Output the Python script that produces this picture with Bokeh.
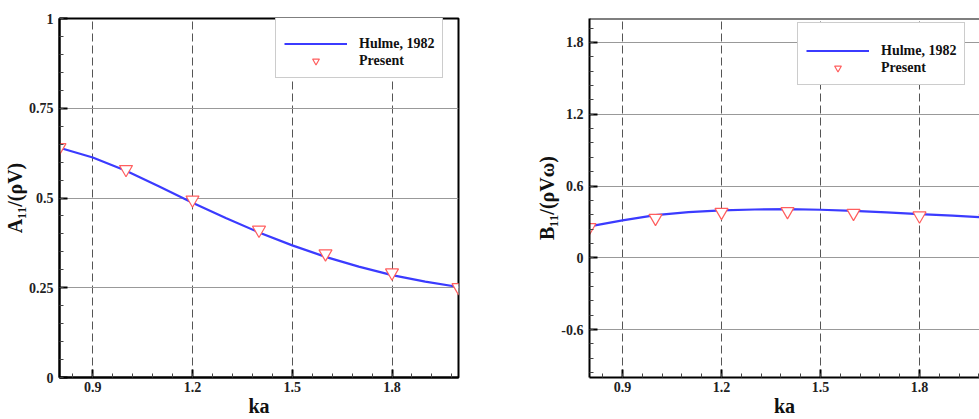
import numpy as np
from bokeh.plotting import figure
from bokeh.layouts import row
from bokeh.models import FixedTicker, Legend, LegendItem, Range1d, Span
from bokeh.embed import file_html
from bokeh.resources import INLINE

# ---------------- data ----------------
ka_line = [0.8, 0.9, 1.0, 1.1, 1.2, 1.3, 1.4, 1.5, 1.6, 1.7, 1.8, 1.9, 2.0]
a11_hulme = [0.640, 0.613, 0.576, 0.532, 0.487, 0.444, 0.404, 0.368, 0.336, 0.309, 0.285, 0.267, 0.252]
b11_hulme = [0.263, 0.313, 0.357, 0.382, 0.396, 0.404, 0.407, 0.402, 0.393, 0.380, 0.366, 0.352, 0.338]

ka_pts = [0.8, 1.0, 1.2, 1.4, 1.6, 1.8, 2.0]
a11_present = [0.641, 0.580, 0.495, 0.411, 0.345, 0.292, 0.251]
b11_present = [0.255, 0.332, 0.382, 0.388, 0.374, 0.352, 0.330]

x_ticks = [0.9, 1.2, 1.5, 1.8]
a_ticks = [0, 0.25, 0.5, 0.75, 1.0]
a_tick_labels = ["0", "0.25", "0.5", "0.75", "1"]
b_ticks = [-0.6, 0, 0.6, 1.2, 1.8]
b_tick_labels = ["-0.6", "0", "0.6", "1.2", "1.8"]

SERIF = "Liberation Serif"
LINE_C = "#3b3bff"
MARK_C = "#ff5e5e"


def style(p, yticks, ylabels, yminor, ylabel, outline=True):
    xminor = list(np.round(np.arange(0.78, 2.05, 0.06), 2))
    p.xaxis.ticker = FixedTicker(ticks=x_ticks, minor_ticks=xminor)
    p.yaxis.ticker = FixedTicker(ticks=yticks, minor_ticks=yminor)
    p.yaxis.major_label_overrides = {t: l for t, l in zip(yticks, ylabels)}
    for ax in (p.xaxis, p.yaxis):
        ax.major_tick_in = 8
        ax.major_tick_out = 0
        ax.minor_tick_in = 4
        ax.minor_tick_out = 0
        ax.major_tick_line_width = 2
        ax.major_tick_line_color = "black"
        ax.minor_tick_line_color = "#444444"
        ax.axis_line_width = 2
        ax.axis_line_color = "black"
        ax.major_label_text_font = SERIF
        ax.major_label_text_font_style = "bold"
        ax.major_label_text_font_size = "14px"
        ax.major_label_text_color = "#222222"
        ax.axis_label_text_font = SERIF
        ax.axis_label_text_font_style = "bold"
        ax.axis_label_text_color = "#111111"
    p.xaxis.axis_label = "ka"
    p.xaxis.axis_label_text_font_size = "20px"
    p.xaxis.axis_label_standoff = 0
    p.xaxis.major_label_standoff = 4
    p.yaxis.axis_label = ylabel
    p.yaxis.axis_label_text_font_size = "20px"
    p.yaxis.axis_label_standoff = 0
    p.yaxis.major_label_standoff = 6
    p.xgrid.ticker = FixedTicker(ticks=x_ticks)
    p.ygrid.ticker = FixedTicker(ticks=yticks)
    p.xgrid.grid_line_color = "#555555"
    p.xgrid.grid_line_dash = "8 4"
    p.xgrid.grid_line_width = 1
    p.ygrid.grid_line_color = "#999999"
    p.ygrid.grid_line_width = 1
    if outline:
        p.outline_line_color = "black"
        p.outline_line_width = 2
        p.outline_line_alpha = 1
    else:
        p.outline_line_color = None
    p.background_fill_color = "white"
    p.border_fill_color = "white"


def add_series(p, yline, ypts, loc):
    r1 = p.line(ka_line, yline, line_color=LINE_C, line_width=2.2)
    r2 = p.scatter(ka_pts, ypts, marker="inverted_triangle", size=13,
                   line_color=MARK_C, fill_color="white", line_width=1.2)
    leg = Legend(items=[LegendItem(label="Hulme, 1982", renderers=[r1]),
                        LegendItem(label="Present", renderers=[r2])],
                 location=loc, margin=0, padding=8, spacing=0,
                 title=" ", title_text_font_size="10px", title_standoff=0,
                 glyph_width=63, glyph_height=17, label_height=17,
                 label_standoff=12,
                 label_text_font=SERIF, label_text_font_style="bold",
                 label_text_font_size="14px", label_text_color="#111111",
                 border_line_color="#999999", border_line_width=1.5,
                 background_fill_color="white", background_fill_alpha=1)
    p.add_layout(leg, "center")


# ---------------- left plot ----------------
p1 = figure(width=480, height=419, output_backend="svg", toolbar_location=None,
            x_range=Range1d(0.8, 2.0), y_range=Range1d(0, 1),
            min_border_left=58, min_border_right=22, min_border_top=14,
            min_border_bottom=41)
style(p1, a_ticks, a_tick_labels, list(np.round(np.arange(0, 1.001, 0.05), 2)),
      "A\u2081\u2081/(\u03c1V)")
add_series(p1, a11_hulme, a11_present, (216, 299))

# ---------------- right plot ----------------
p2 = figure(width=499, height=419, output_backend="svg", toolbar_location=None,
            x_range=Range1d(0.8, 0.8 + 390 / 330), y_range=Range1d(-1.0, 2.0),
            min_border_left=109, min_border_right=0, min_border_top=18,
            min_border_bottom=41)
style(p2, b_ticks, b_tick_labels, list(np.round(np.arange(-0.96, 2.0, 0.12), 2)),
      "B\u2081\u2081/(\u03c1V\u03c9)", outline=False)
p2.add_layout(Span(location=2.0, dimension="width", line_color="black", line_width=2))
add_series(p2, b11_hulme, b11_present, (208, 292))

layout = row(p1, p2)
open("out.html", "w").write(file_html(layout, INLINE))
